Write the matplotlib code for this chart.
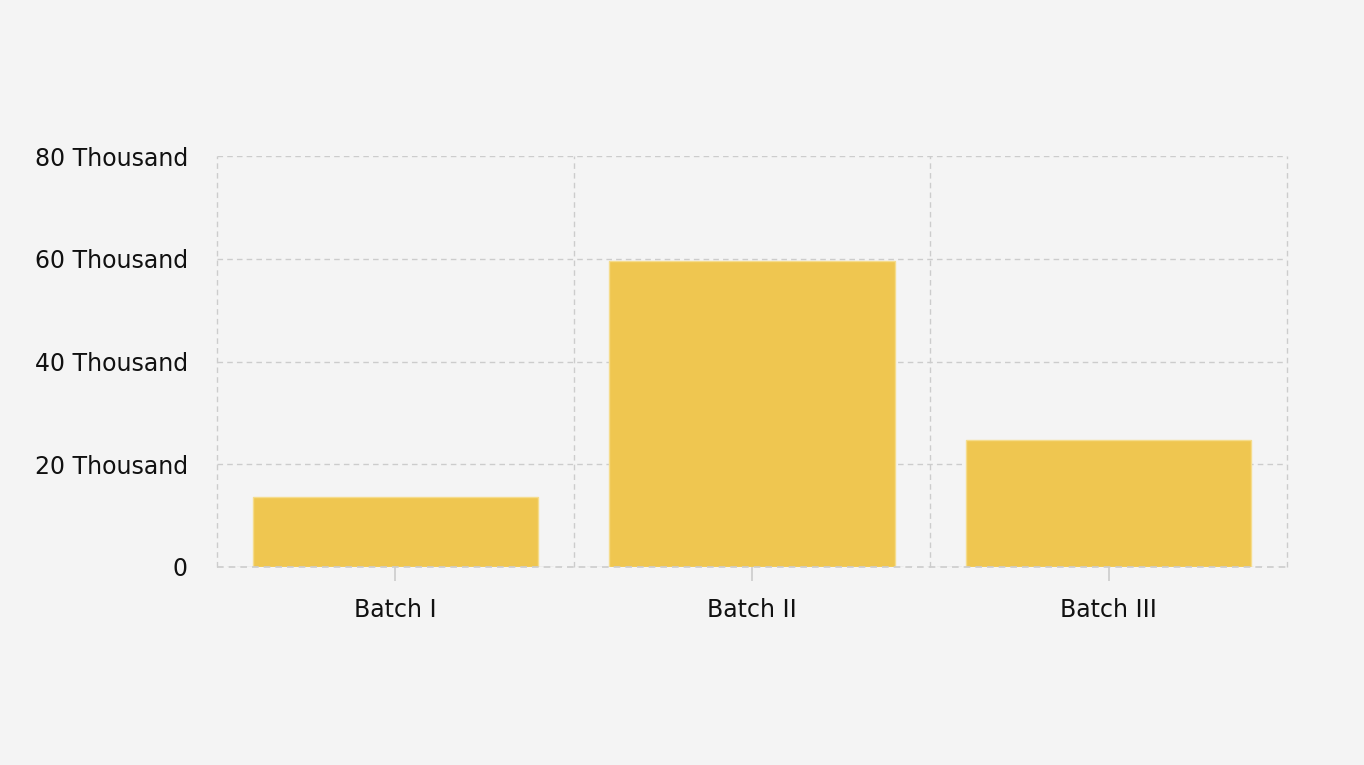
import matplotlib.pyplot as plt
from matplotlib.ticker import FuncFormatter, MultipleLocator

plt.rcParams['font.family'] = ['DejaVu Sans']

batches = ['Batch I', 'Batch II', 'Batch III']
values = [13700, 59600, 24800]

bg = '#f4f4f4'
fig = plt.figure(figsize=(13.64, 7.65), dpi=100, facecolor=bg)
ax = fig.add_axes([217/1364, 1-567/765, 1070/1364, 411/765], facecolor=bg)

x = list(range(len(batches)))
ax.bar(x, values, width=0.8, color='#efc650', edgecolor='#f5dc8c', linewidth=1, zorder=2)

ax.set_xlim(-0.5, 2.5)
ax.set_ylim(0, 80000)
ax.yaxis.set_major_locator(MultipleLocator(20000))
ax.yaxis.set_major_formatter(FuncFormatter(lambda v, p: '0' if v == 0 else f'{int(v/1000)} Thousand'))

# vertical grid at category borders
for b in [-0.5, 0.5, 1.5, 2.5]:
    ax.axvline(b, color='#cccccc', linestyle=(0, (4, 3)), linewidth=1, zorder=1, clip_on=False)
ax.yaxis.grid(True, color='#cccccc', linestyle=(0, (4, 3)), linewidth=1, zorder=1)
ax.set_axisbelow(True)

for s in ax.spines.values():
    s.set_visible(False)
ax.axhline(0, color='#cccccc', linestyle=(0, (4, 3)), linewidth=1.2, zorder=3, clip_on=False)

ax.set_xticks(x)
ax.set_xticklabels(batches)
ax.tick_params(axis='x', length=10, color='#cccccc', width=1.2, pad=12, labelsize=17)
ax.tick_params(axis='y', length=0, pad=21, labelsize=17)
for lab in ax.get_xticklabels() + ax.get_yticklabels():
    lab.set_color('#111111')

fig.savefig('out.png', dpi=100, facecolor=bg)
